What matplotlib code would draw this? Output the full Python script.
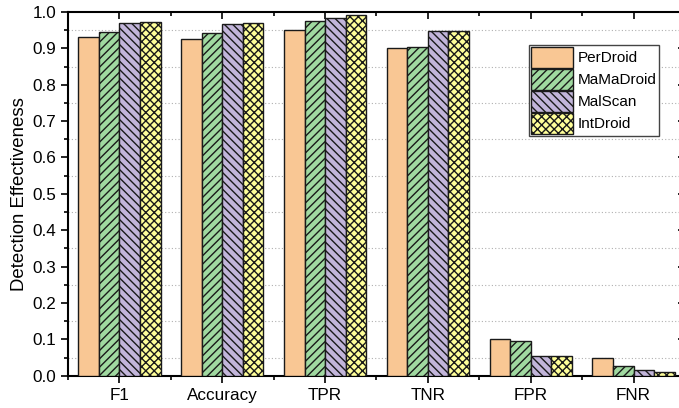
import matplotlib
matplotlib.use("Agg")
import matplotlib.pyplot as plt
import numpy as np
from matplotlib.ticker import MultipleLocator, FixedLocator

plt.rcParams['font.family'] = ['Liberation Sans', 'DejaVu Sans']
plt.rcParams['hatch.linewidth'] = 1.0

categories = ["F1", "Accuracy", "TPR", "TNR", "FPR", "FNR"]
methods = ["PerDroid", "MaMaDroid", "MalScan", "IntDroid"]
perdroid = [0.930, 0.927, 0.950, 0.900, 0.100, 0.050]
mamadroid = [0.945, 0.942, 0.974, 0.905, 0.095, 0.027]
malscan = [0.970, 0.966, 0.983, 0.947, 0.053, 0.016]
intdroid = [0.972, 0.969, 0.992, 0.947, 0.053, 0.009]

colors = ["#F9C794", "#A0D9A0", "#C2B5DA", "#FFFF99"]
hatches = ["", "////", "\\\\\\\\", "xxxx"]

fig = plt.figure(figsize=(6.79, 4.08), dpi=100)
ax = fig.add_axes([68 / 679, 1 - 375.7 / 408, 617 / 679, 363.7 / 408])

x = np.arange(1, len(categories) + 1)
width = 0.2
series = [perdroid, mamadroid, malscan, intdroid]
for i, (vals, col, hat, name) in enumerate(zip(series, colors, hatches, methods)):
    ax.bar(x + (i - 1.5) * width, vals, width, color=col, hatch=hat,
           edgecolor="#1a1a1a", linewidth=1.0, label=name, zorder=3)

ax.set_xlim(0.5, 6.5)
ax.set_ylim(0, 1.0)
ax.set_xticks(x)
ax.set_xticklabels(categories, fontsize=12.3)
ax.xaxis.set_minor_locator(FixedLocator(np.arange(0.5, 7, 1.0)))
ax.yaxis.set_major_locator(MultipleLocator(0.1))
ax.set_yticklabels([f"{v:.1f}" for v in ax.get_yticks()], fontsize=12.3)

# dotted grid at the half steps
ax.set_yticks(np.arange(0.05, 1.0, 0.1), minor=True)
ax.yaxis.grid(True, which="minor", linestyle=(0, (1, 2)), color="#b0b0b0", linewidth=0.8, zorder=0)
ax.set_axisbelow(True)

ax.tick_params(axis="both", which="major", direction="out", length=5, width=1.2)
ax.tick_params(axis="both", which="minor", direction="out", length=3, width=1.2)
ax.tick_params(top=True, right=True, which="both")
for t in ax.xaxis.get_major_ticks() + ax.xaxis.get_minor_ticks():
    t.tick2line.set_marker(matplotlib.lines.TICKDOWN)
for t in ax.yaxis.get_major_ticks() + ax.yaxis.get_minor_ticks():
    t.tick2line.set_marker(matplotlib.lines.TICKLEFT)
for s in ax.spines.values():
    s.set_linewidth(1.5)

ax.set_ylabel("Detection Effectiveness", fontsize=13.4, labelpad=3)

leg = ax.legend(loc="upper left", bbox_to_anchor=(529 / 679, 1 - 45 / 408),
                bbox_transform=fig.transFigure, borderaxespad=0, fontsize=11,
                fancybox=False, framealpha=1, edgecolor="#444444",
                handlelength=2.7, handleheight=1.68, labelspacing=0.1,
                handletextpad=0.35, borderpad=0.15)
leg.get_frame().set_linewidth(1.0)

fig.savefig("out.png", dpi=100)
